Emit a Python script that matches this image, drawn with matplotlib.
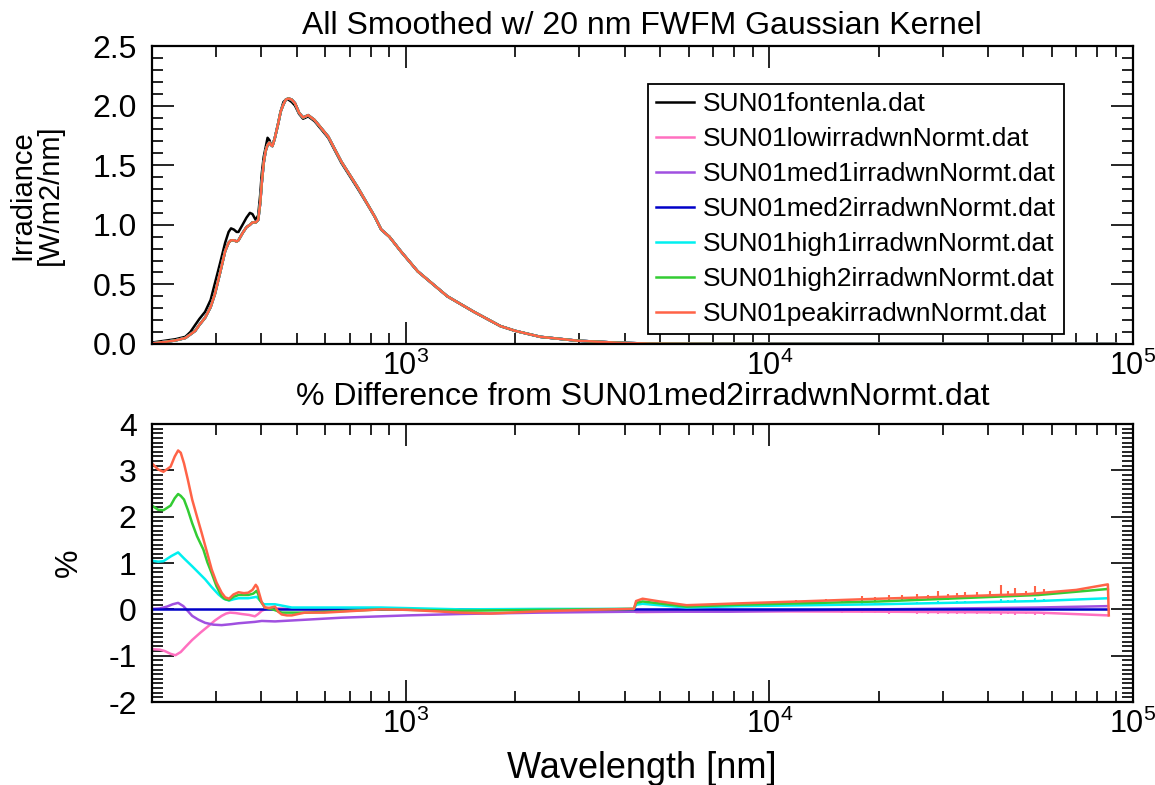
import numpy as np
import matplotlib
matplotlib.use("Agg")
import matplotlib.pyplot as plt
from matplotlib.ticker import LogLocator, NullFormatter, MultipleLocator, FixedLocator, FormatStrFormatter

plt.rcParams['font.family'] = 'Liberation Sans'
plt.rcParams['mathtext.fontset'] = 'custom'
plt.rcParams['mathtext.rm'] = 'Liberation Sans'
plt.rcParams['mathtext.it'] = 'Liberation Sans:italic'
plt.rcParams['mathtext.bf'] = 'Liberation Sans:bold'
plt.rcParams['axes.unicode_minus'] = False
plt.rcParams['lines.solid_joinstyle'] = 'round'

# ---- top panel: irradiance ----
wl_top = [200, 220, 232, 247, 255, 263, 270, 280, 290, 298, 308, 318, 325, 330, 336, 342, 346, 355, 364, 372,
          378, 386, 392, 397, 401, 406, 411, 416, 421, 425, 429, 435, 445, 452, 460, 467, 475, 485, 495,
          508, 521, 530, 538, 560, 585, 611, 664, 738, 820, 855, 900,
          969, 1077, 1300, 1538, 1820, 2000, 2344, 2953, 3800, 4690, 7000, 20000, 90000]
irr_fontenla = [0.012, 0.03, 0.04, 0.06, 0.10, 0.16, 0.21, 0.27, 0.37, 0.51, 0.68, 0.85, 0.94, 0.97, 0.96, 0.94, 0.94, 1.00, 1.06, 1.10,
                1.09, 1.04, 1.08, 1.25, 1.43, 1.57, 1.65, 1.73, 1.71, 1.67, 1.67, 1.72, 1.85, 1.95, 2.03, 2.05, 2.05, 2.03, 2.00,
                1.93, 1.89, 1.90, 1.91, 1.87, 1.80, 1.73, 1.52, 1.30, 1.07, 0.96, 0.90,
                0.776, 0.61, 0.40, 0.27, 0.15, 0.11, 0.06, 0.028, 0.011, 0.003, 0.001, 0.0, 0.0]
irr_med2 = [0.005, 0.02, 0.03, 0.05, 0.08, 0.11, 0.16, 0.22, 0.31, 0.42, 0.60, 0.78, 0.85, 0.87, 0.87, 0.86, 0.87, 0.93, 0.98, 1.00,
            1.02, 1.02, 1.04, 1.18, 1.35, 1.52, 1.62, 1.67, 1.69, 1.67, 1.66, 1.72, 1.85, 1.95, 2.01, 2.05, 2.06, 2.05, 2.02,
            1.94, 1.90, 1.91, 1.92, 1.88, 1.81, 1.74, 1.53, 1.31, 1.07, 0.96, 0.90,
            0.776, 0.61, 0.40, 0.27, 0.15, 0.11, 0.06, 0.028, 0.011, 0.003, 0.001, 0.0, 0.0]

names = ['SUN01fontenla.dat', 'SUN01lowirradwnNormt.dat', 'SUN01med1irradwnNormt.dat',
         'SUN01med2irradwnNormt.dat', 'SUN01high1irradwnNormt.dat',
         'SUN01high2irradwnNormt.dat', 'SUN01peakirradwnNormt.dat']
colors = ['black', '#ff70c0', '#a050e0', '#0000c8', '#00f0f0', '#33cc33', '#ff6347']

# ---- bottom panel: % difference from med2 ----
low_wl = [200, 210, 217, 225, 232, 240, 248, 258, 272, 286, 298, 311, 320, 328, 340, 353, 370, 384, 392, 401, 418,
          485, 1415, 4240, 4300, 7760, 20000, 55000, 85500]
low_pct = [-0.86, -0.87, -0.90, -0.96, -0.99, -0.92, -0.80, -0.66, -0.50, -0.36, -0.24, -0.14, -0.09, -0.07, -0.08, -0.10, -0.12, -0.15, -0.10, -0.03, 0.03,
           0.01, 0.0, 0.0, -0.06, -0.04, -0.05, -0.07, -0.13]

med1_wl = [200, 210, 220, 228, 236, 244, 258, 268, 280, 295, 311, 330, 346, 384, 401, 436, 664, 1010, 1415, 2344,
           4240, 7760, 20000, 55000, 85500]
med1_pct = [0.01, 0.02, 0.06, 0.11, 0.14, 0.07, -0.14, -0.22, -0.29, -0.33, -0.34, -0.32, -0.30, -0.27, -0.25, -0.26, -0.18, -0.13, -0.10, -0.07,
            -0.05, -0.05, 0.0, 0.04, 0.07]

med2_wl = [200, 85500]
med2_pct = [0.0, 0.0]

high1_wl = [200, 208, 215, 226, 236, 245, 258, 268, 280, 292, 305, 315, 326, 336, 346, 368, 388, 396, 406, 436,
            485, 855, 1415, 2344, 4240, 4300, 4480, 5920, 8280, 20000, 55000, 85500]
high1_pct = [1.05, 1.03, 1.04, 1.15, 1.23, 1.10, 0.93, 0.80, 0.65, 0.48, 0.32, 0.23, 0.19, 0.22, 0.24, 0.24, 0.27, 0.20, 0.11, 0.11,
             0.04, 0.04, 0.0, 0.01, 0.01, 0.10, 0.12, 0.04, 0.07, 0.11, 0.18, 0.24]

high2_wl = [200, 208, 215, 225, 231, 236, 240, 245, 251, 258, 266, 277, 284, 292, 301, 311, 318, 326, 335, 346, 368,
            380, 388, 392, 396, 409, 430, 455, 535, 855, 1415, 2344, 4170, 4240, 4300, 4480, 5920, 8280, 20000,
            55000, 85500]
high2_pct = [2.24, 2.15, 2.14, 2.24, 2.40, 2.49, 2.45, 2.37, 2.15, 1.86, 1.58, 1.29, 1.02, 0.78, 0.50, 0.28, 0.22, 0.20, 0.27, 0.31, 0.31,
             0.34, 0.40, 0.33, 0.20, 0.04, 0.0, -0.07, -0.07, 0.0, -0.03, -0.01, 0.01, 0.01, 0.14, 0.17, 0.06, 0.10, 0.17,
             0.31, 0.44]

peak_wl = [200, 208, 215, 225, 231, 236, 240, 245, 251, 258, 266, 274, 283, 292, 301, 311, 318, 326, 335, 346, 358,
           368, 378, 386, 390, 394, 401, 409, 420, 436, 445, 455, 470, 485, 505, 527, 597,
           855, 1010, 1415, 1711, 2344, 3212, 4170, 4240, 4300, 4480, 5000, 5920, 8280, 12000, 20000, 30000,
           51500, 70000, 85500, 86000]
peak_pct = [3.15, 3.02, 2.97, 3.08, 3.30, 3.43, 3.38, 3.15, 2.80, 2.37, 2.00, 1.65, 1.25, 0.86, 0.58, 0.36, 0.26, 0.23, 0.32, 0.37, 0.35,
            0.36, 0.42, 0.53, 0.48, 0.36, 0.15, 0.04, 0.03, 0.06, -0.05, -0.11, -0.13, -0.13, -0.10, -0.07, -0.07,
            0.0, -0.01, -0.07, -0.09, -0.04, -0.01, 0.01, 0.01, 0.18, 0.23, 0.17, 0.09, 0.13, 0.17, 0.23, 0.27,
            0.33, 0.42, 0.54, -0.13]

# narrow spikes in the far-IR part
spike_wl = [11830, 14290, 15880, 18030, 19600, 21310, 23180, 25480, 27420, 29220, 31120,
            32810, 34580, 37220, 40490, 43540, 45450, 47440, 51020, 53800, 57000]
peak_spk_lo = [0.17, 0.19, 0.20, 0.21, 0.22, 0.23, 0.24, 0.25, 0.26, 0.26, 0.27,
               0.27, 0.28, 0.29, 0.30, 0.31, 0.31, 0.32, 0.33, 0.34, 0.35]
peak_spk_hi = [0.20, 0.22, 0.23, 0.29, 0.26, 0.32, 0.30, 0.34, 0.32, 0.39, 0.34,
               0.36, 0.37, 0.37, 0.39, 0.52, 0.39, 0.47, 0.40, 0.50, 0.45]
high2_spk_lo = [0.12, 0.13, 0.14, 0.16, 0.17, 0.17, 0.18, 0.19, 0.20, 0.21, 0.21,
                0.22, 0.23, 0.24, 0.25, 0.26, 0.27, 0.28, 0.29, 0.30, 0.31]
high2_spk_hi = [0.14, 0.16, 0.17, 0.20, 0.20, 0.22, 0.22, 0.24, 0.24, 0.28, 0.25,
                0.27, 0.28, 0.29, 0.30, 0.36, 0.31, 0.34, 0.33, 0.37, 0.35]
high1_spk_lo = [0.08, 0.08, 0.09, 0.10, 0.11, 0.11, 0.12, 0.12, 0.13, 0.13, 0.13,
                0.14, 0.14, 0.15, 0.15, 0.16, 0.16, 0.17, 0.17, 0.18, 0.18]
high1_spk_hi = [0.09, 0.10, 0.11, 0.13, 0.13, 0.14, 0.14, 0.16, 0.15, 0.18, 0.16,
                0.18, 0.18, 0.19, 0.19, 0.23, 0.20, 0.22, 0.21, 0.24, 0.22]
low_spk_lo = [-0.04, -0.04, -0.04, -0.04, -0.05, -0.05, -0.05, -0.05, -0.05, -0.05, -0.06,
              -0.06, -0.06, -0.06, -0.06, -0.06, -0.07, -0.07, -0.07, -0.07, -0.07]
low_spk_hi = [-0.06, -0.06, -0.07, -0.08, -0.07, -0.09, -0.08, -0.09, -0.09, -0.11, -0.09,
              -0.10, -0.10, -0.10, -0.11, -0.13, -0.10, -0.12, -0.11, -0.13, -0.12]

fig = plt.figure(figsize=(11.55, 7.85), dpi=100)
ax1 = fig.add_axes([0.1316, 0.5618, 0.849, 0.3796])
ax2 = fig.add_axes([0.1316, 0.1057, 0.849, 0.3541])

lw = 1.8
ax1.plot(wl_top, irr_fontenla, color=colors[0], lw=lw, label=names[0])
for i in range(1, 7):
    ax1.plot(wl_top, irr_med2, color=colors[i], lw=lw, label=names[i])

pct_series = [(low_wl, low_pct), (med1_wl, med1_pct), (med2_wl, med2_pct),
              (high1_wl, high1_pct), (high2_wl, high2_pct), (peak_wl, peak_pct)]
spikes = {1: (low_spk_lo, low_spk_hi), 4: (high1_spk_lo, high1_spk_hi),
          5: (high2_spk_lo, high2_spk_hi), 6: (peak_spk_lo, peak_spk_hi)}
for i, (w, p) in enumerate(pct_series, start=1):
    ax2.plot(w, p, color=colors[i], lw=lw)
    if i in spikes:
        lo, hi = spikes[i]
        ax2.vlines(spike_wl, lo, hi, color=colors[i], lw=1.5)

fs = 23
for ax in (ax1, ax2):
    ax.set_xscale('log')
    ax.set_xlim(200, 1e5)
    ax.xaxis.set_major_locator(FixedLocator([1e3, 1e4, 1e5]))
    ax.xaxis.set_minor_locator(LogLocator(base=10, subs=np.arange(2, 10), numticks=20))
    ax.xaxis.set_minor_formatter(NullFormatter())
    ax.tick_params(which='both', direction='in', top=True, right=True, width=1.2, labelsize=fs)
    ax.tick_params(which='major', length=15.5)
    ax.tick_params(which='minor', length=8)
    ax.tick_params(axis='x', which='major', pad=5, labelsize=22)
    ax.tick_params(axis='y', which='major', pad=11)
    for s in ax.spines.values():
        s.set_linewidth(1.6)

ax1.set_ylim(0, 2.5)
ax1.yaxis.set_major_locator(MultipleLocator(0.5))
ax1.yaxis.set_minor_locator(MultipleLocator(0.1))
ax1.yaxis.set_major_formatter(FormatStrFormatter('%.1f'))
ax1.set_title('All Smoothed w/ 20 nm FWFM Gaussian Kernel', fontsize=fs, pad=9)
ax1.set_ylabel('Irradiance\n[W/m2/nm]', fontsize=21, linespacing=0.95)
ax1.yaxis.set_label_coords(-0.09, 0.5)

leg = ax1.legend(loc='upper left', bbox_to_anchor=(0.5056, 0.8725), borderaxespad=0,
                 fontsize=19, frameon=True, fancybox=False, edgecolor='black', framealpha=1,
                 handlelength=1.45, handletextpad=0.35, labelspacing=0.42, borderpad=0.3)
leg.get_frame().set_linewidth(1.3)

ax2.set_ylim(-2, 4)
ax2.yaxis.set_major_locator(MultipleLocator(1))
ax2.yaxis.set_minor_locator(MultipleLocator(0.1))
ax2.set_title('% Difference from SUN01med2irradwnNormt.dat', fontsize=fs, pad=14)
ax2.set_ylabel('%', fontsize=fs)
ax2.yaxis.set_label_coords(-0.069, 0.5)
ax2.set_xlabel('Wavelength [nm]', fontsize=26, labelpad=8)

fig.savefig('out.png', dpi=100)
